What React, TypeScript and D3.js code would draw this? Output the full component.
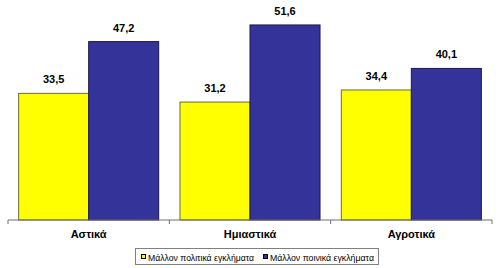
import React from "react";
import * as d3 from "d3";

const categories = ["Αστικά", "Ημιαστικά", "Αγροτικά"];
const seriesNames = ["Μάλλον πολιτικά εγκλήματα", "Μάλλον ποινικά εγκλήματα"];
const political = [33.5, 31.2, 34.4];
const criminal = [47.2, 51.6, 40.1];
const colors = ["#FFFF00", "#333399"];
const strokes = ["#6b6b3a", "#1a1a4d"];

const fmt = (v: number) => v.toFixed(1).replace(".", ",");

export default function App() {
  const W = 500, H = 268;
  const left = 8, right = 492, base = 220;
  const x0 = d3.scaleBand<string>().domain(categories).range([left, right]).paddingInner(0).paddingOuter(0);
  const x1 = d3.scaleBand<string>().domain(["0", "1"]).range([0, x0.bandwidth()]).paddingInner(0).paddingOuter(0.152);
  const y = d3.scaleLinear().domain([0, 50]).range([base, base - 189]);
  const series = [political, criminal];
  const ticks = [left, ...categories.map((c) => (x0(c) as number) + x0.bandwidth())];
  const font = "Arial, 'Liberation Sans', sans-serif";
  const legendX = [141, 263];
  const legendLen = [106, 104];
  return (
    <svg width={W} height={H} style={{ position: "absolute", left: 0, top: 0, background: "#fff" }}>
      {categories.map((c, i) =>
        series.map((s, j) => {
          const bx = (x0(c) as number) + (x1(String(j)) as number);
          const bw = x1.bandwidth();
          const yt = y(s[i]);
          return (
            <g key={c + j}>
              <rect x={bx} y={yt} width={bw} height={base - yt} fill={colors[j]} stroke={strokes[j]} strokeWidth={1} />
              <text x={bx + bw / 2} y={yt - 10} textAnchor="middle" fontFamily={font} fontWeight="bold" fontSize={11}>
                {fmt(s[i])}
              </text>
            </g>
          );
        })
      )}
      <line x1={left} x2={right} y1={base} y2={base} stroke="#707070" strokeWidth={1} />
      {ticks.map((t, i) => (
        <line key={i} x1={t} x2={t} y1={base} y2={base + 4} stroke="#707070" strokeWidth={1} />
      ))}
      {categories.map((c) => (
        <text key={c} x={(x0(c) as number) + x0.bandwidth() / 2} y={238} textAnchor="middle" fontFamily={font} fontWeight="bold" fontSize={11}>
          {c}
        </text>
      ))}
      <rect x={135.5} y={248.5} width={243} height={16} fill="#fff" stroke="#808080" strokeWidth={1} />
      {seriesNames.map((n, j) => {
        const lx = legendX[j];
        return (
          <g key={n}>
            <rect x={lx + 0.5} y={254.5} width={4} height={4} fill={colors[j]} stroke="#000" strokeWidth={1} />
            <text x={lx + 7} y={260.5} fontFamily={font} fontSize={9.5} textLength={legendLen[j]} lengthAdjust="spacingAndGlyphs">
              {n}
            </text>
          </g>
        );
      })}
    </svg>
  );
}
